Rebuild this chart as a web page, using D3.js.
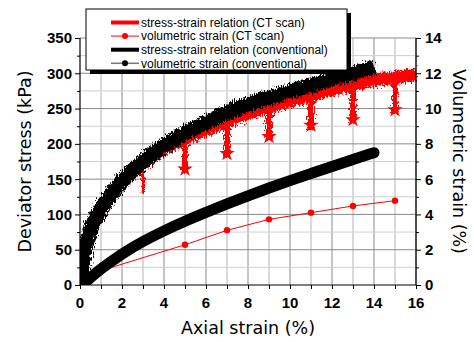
<!DOCTYPE html>
<html>
<head>
<meta charset="utf-8">
<script src="https://cdn.jsdelivr.net/npm/d3@7"></script>
<style>
  body { margin: 0; background: #fff; }
  .tick-label { font-family: "Liberation Sans", Arial, sans-serif; font-weight: bold; font-size: 15px; fill: #000; }
  .axis-title { font-family: "DejaVu Sans", sans-serif; font-size: 17.5px; fill: #000; }
  .legend-text { font-family: "Liberation Sans", Arial, sans-serif; font-size: 12px; fill: #000; }
</style>
</head>
<body>
<svg id="chart" width="474" height="342"></svg>
<script>
// stress-strain relation, CT scan test (kPa)
const strainCT = [0, 0.1, 0.25, 0.5, 1, 2, 3, 4, 5, 6, 7, 8, 9, 10, 11, 12, 13, 14, 15, 16];
const stressCT = [0, 26, 49, 77, 105, 145, 172, 193, 207, 220, 232, 243, 252, 261, 269, 277, 284, 290, 294, 298];

// stress-strain relation, conventional test (kPa)
const strainConv = [0, 0.1, 0.25, 0.5, 1, 2, 3, 4, 5, 6, 7, 8, 9, 10, 11, 12, 13, 14];
const stressConv = [0, 27, 51, 79, 107, 147, 175, 197, 215, 230, 244, 256, 265, 274, 283, 292, 300, 309];

// relaxation drops while scanning
const scanStrain = [3, 5, 7, 9, 11, 13, 15];
const scanTop = [165, 200, 224, 244, 262, 276, 288];
const scanLow = [130, 160, 182, 206, 222, 230, 244];

// volumetric strain (%)
const volStrainConvX = [0.1, 0.5, 1, 2, 3, 4, 5, 6, 7, 8, 9, 10, 11, 12, 13, 14];
const volConv = [0, 0.42, 0.92, 1.78, 2.48, 3.08, 3.62, 4.12, 4.6, 5.06, 5.5, 5.92, 6.32, 6.72, 7.11, 7.5];
const volStrainCTX = [0, 5, 7, 9, 11, 13, 15];
const volCT = [0.45, 2.28, 3.1, 3.72, 4.1, 4.48, 4.78];

const xTicks = [0, 2, 4, 6, 8, 10, 12, 14, 16];
const yTicks = [0, 50, 100, 150, 200, 250, 300, 350];
const y2Ticks = [0, 2, 4, 6, 8, 10, 12, 14];

const legendLabels = [
  "stress-strain relation (CT scan)",
  "volumetric strain (CT scan)",
  "stress-strain relation (conventional)",
  "volumetric strain (conventional)"
];

const margin = {top: 38, right: 58, bottom: 57, left: 80};
const width = 474 - margin.left - margin.right;
const height = 342 - margin.top - margin.bottom;

const svg = d3.select("#chart");

const defs = svg.append("defs");
const jag = defs.append("filter").attr("id", "jag")
  .attr("x", "-10%").attr("y", "-10%").attr("width", "120%").attr("height", "120%");
jag.append("feTurbulence").attr("type", "fractalNoise")
  .attr("baseFrequency", "0.9 0.3").attr("numOctaves", 2).attr("seed", 4).attr("result", "n");
jag.append("feDisplacementMap").attr("in", "SourceGraphic").attr("in2", "n")
  .attr("scale", 10).attr("xChannelSelector", "R").attr("yChannelSelector", "G");
defs.append("clipPath").attr("id", "plot")
  .append("rect").attr("x", 0).attr("y", -10).attr("width", width + 10).attr("height", height + 10);

const g = svg.append("g").attr("transform", `translate(${margin.left},${margin.top})`);

const x = d3.scaleLinear().domain([0, 16]).range([0, width]);
const y = d3.scaleLinear().domain([0, 350]).range([height, 0]);
const y2 = d3.scaleLinear().domain([0, 14]).range([height, 0]);

// grid
g.append("g").selectAll("line")
  .data(d3.range(1, 17))
  .join("line")
  .attr("x1", d => x(d)).attr("x2", d => x(d))
  .attr("y1", 0).attr("y2", height)
  .attr("stroke", d => d % 2 === 0 ? "#8a8a8a" : "#b4b4b4")
  .attr("stroke-width", 1);
g.append("g").selectAll("line")
  .data(d3.range(25, 351, 25))
  .join("line")
  .attr("x1", 0).attr("x2", width)
  .attr("y1", d => y(d)).attr("y2", d => y(d))
  .attr("stroke", d => d % 50 === 0 ? "#8a8a8a" : "#cfcfcf")
  .attr("stroke-width", 1);

const plot = g.append("g").attr("clip-path", "url(#plot)");
const stressLine = d3.line().x(d => x(d[0])).y(d => y(d[1])).curve(d3.curveMonotoneX);

// noisy band: jagged outer stroke + solid core
function band(data, color, outer, core) {
  plot.append("path").datum(data).attr("d", stressLine)
    .attr("fill", "none").attr("stroke", color).attr("stroke-width", outer)
    .attr("filter", "url(#jag)");
  plot.append("path").datum(data).attr("d", stressLine)
    .attr("fill", "none").attr("stroke", color).attr("stroke-width", core);
}

// CT scan stress-strain (red)
band(d3.zip(strainCT, stressCT), "#ff0000", 13, 8);

// relaxation spikes
const spikeData = d3.zip(scanStrain, scanTop, scanLow);
const spikes = plot.append("g");
spikes.append("g").attr("filter", "url(#jag)").selectAll("line")
  .data(spikeData)
  .join("line")
  .attr("x1", d => x(d[0])).attr("x2", d => x(d[0]))
  .attr("y1", d => y(d[1])).attr("y2", d => y(d[2]))
  .attr("stroke", "#ff0000")
  .attr("stroke-width", (d, i) => i === 0 ? 2.5 : 6);
spikes.append("g").selectAll("line")
  .data(spikeData)
  .join("line")
  .attr("x1", d => x(d[0])).attr("x2", d => x(d[0]))
  .attr("y1", d => y(d[1])).attr("y2", d => y(d[2]))
  .attr("stroke", "#ff0000")
  .attr("stroke-width", (d, i) => i === 0 ? 2 : 4);
spikes.append("g").selectAll("path")
  .data(spikeData.slice(1))
  .join("path")
  .attr("transform", d => `translate(${x(d[0])},${y(d[2]) - 3})`)
  .attr("d", d3.symbol(d3.symbolStar, 75))
  .attr("fill", "#ff0000");

// CT volumetric strain
plot.append("path")
  .datum(d3.zip(volStrainCTX, volCT))
  .attr("d", d3.line().x(d => x(d[0])).y(d => y2(d[1])))
  .attr("fill", "none")
  .attr("stroke", "#ff0000")
  .attr("stroke-width", 1);
plot.append("g").selectAll("circle")
  .data(d3.zip(volStrainCTX, volCT))
  .join("circle")
  .attr("cx", d => x(d[0])).attr("cy", d => y2(d[1]))
  .attr("r", 3.2)
  .attr("fill", "#ff0000");

// conventional stress-strain (black)
band(d3.zip(strainConv, stressConv), "#000", 15, 10);

// conventional volumetric strain (dense points -> thick band)
plot.append("path")
  .datum(d3.zip(volStrainConvX, volConv))
  .attr("d", d3.line().x(d => x(d[0])).y(d => y2(d[1])).curve(d3.curveBasis))
  .attr("fill", "none")
  .attr("stroke", "#000")
  .attr("stroke-width", 11)
  .attr("stroke-linecap", "round");

// axes
const axisLeft = g.append("g");
axisLeft.call(d3.axisLeft(y).tickValues(d3.range(0, 351, 25)).tickSize(5).tickFormat(""));
axisLeft.selectAll(".tick line").attr("x2", d => d % 50 === 0 ? -5 : -3);
axisLeft.select(".domain").attr("d", `M0,0V${height}`);
axisLeft.selectAll(".lab").data(yTicks).join("text")
  .attr("class", "tick-label")
  .attr("x", -8).attr("y", d => y(d)).attr("dy", "0.36em")
  .attr("text-anchor", "end").text(d => d);

const axisRight = g.append("g").attr("transform", `translate(${width},0)`);
axisRight.call(d3.axisRight(y2).tickValues(d3.range(0, 15, 1)).tickSize(5).tickFormat(""));
axisRight.selectAll(".tick line").attr("x2", d => d % 2 === 0 ? 5 : 3);
axisRight.select(".domain").attr("d", `M0,0V${height}`);
axisRight.selectAll(".lab").data(y2Ticks).join("text")
  .attr("class", "tick-label")
  .attr("x", 9).attr("y", d => y2(d)).attr("dy", "0.36em")
  .attr("text-anchor", "start").text(d => d);

const axisBottom = g.append("g").attr("transform", `translate(0,${height})`);
axisBottom.call(d3.axisBottom(x).tickValues(d3.range(0, 17, 1)).tickSize(4).tickFormat(""));
axisBottom.select(".domain").attr("d", `M0,0H${width}`);
axisBottom.selectAll(".lab").data(xTicks).join("text")
  .attr("class", "tick-label")
  .attr("x", d => x(d)).attr("y", 23)
  .attr("text-anchor", "middle").text(d => d);

g.selectAll(".domain").attr("stroke", "#000").attr("stroke-width", 1.2);

// axis titles
svg.append("text").attr("class", "axis-title")
  .attr("x", margin.left + width / 2).attr("y", 334)
  .attr("text-anchor", "middle").text("Axial strain (%)");
svg.append("text").attr("class", "axis-title")
  .attr("transform", `translate(31,${margin.top + height / 2}) rotate(-90)`)
  .attr("text-anchor", "middle").text("Deviator stress (kPa)");
svg.append("text").attr("class", "axis-title")
  .attr("transform", `translate(453,${margin.top + height / 2}) rotate(90)`)
  .attr("text-anchor", "middle").text("Volumetric strain (%)");

// legend
const lg = svg.append("g").attr("transform", "translate(86,9)");
lg.append("rect").attr("x", 4).attr("y", 4).attr("width", 261).attr("height", 61).attr("fill", "#000");
lg.append("rect").attr("x", 0).attr("y", 0).attr("width", 261).attr("height", 61)
  .attr("fill", "#fff").attr("stroke", "#000").attr("stroke-width", 1);
const legendStyle = [
  {color: "#ff0000", w: 4, dot: null},
  {color: "#ff0000", w: 1, dot: "#ff0000"},
  {color: "#000", w: 4, dot: null},
  {color: "#777", w: 1.5, dot: "#000"}
];
const rows = lg.selectAll(".row").data(legendLabels).join("g")
  .attr("transform", (d, i) => `translate(0,${13.5 + i * 13.6})`);
rows.append("line")
  .attr("x1", 25).attr("x2", 53).attr("y1", 0).attr("y2", 0)
  .attr("stroke", (d, i) => legendStyle[i].color)
  .attr("stroke-width", (d, i) => legendStyle[i].w);
rows.filter((d, i) => legendStyle[i].dot).append("circle")
  .attr("cx", 39).attr("cy", 0).attr("r", 3)
  .attr("fill", d => legendStyle[legendLabels.indexOf(d)].dot);
rows.append("text").attr("class", "legend-text")
  .attr("x", 55).attr("y", 0).attr("dy", "0.35em").text(d => d);
</script>
</body>
</html>
